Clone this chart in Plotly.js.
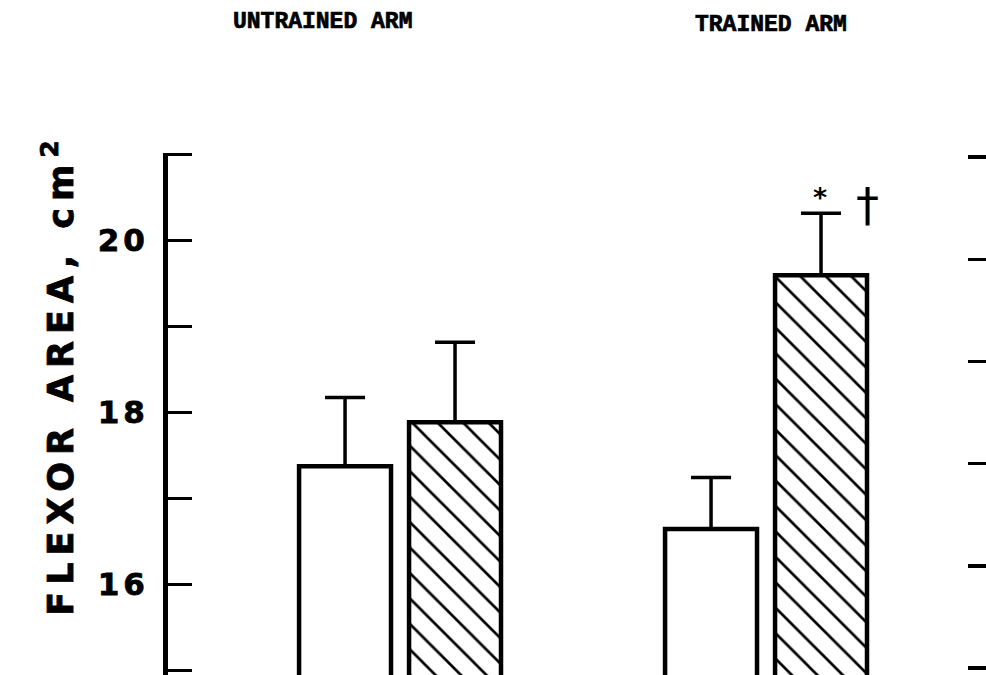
<!DOCTYPE html>
<html>
<head>
<meta charset="utf-8">
<script src="https://cdn.plot.ly/plotly-3.0.1.min.js"></script>
<style>
  html, body { margin: 0; padding: 0; background: #ffffff; overflow: hidden; }
  #chart { width: 986px; height: 675px; }
  /* wide, heavy lettering of the axis title and tick numbers */
  g.annotation[data-index="0"] text { letter-spacing: 7px; stroke: #000000; stroke-width: 0.8px; }
  g.annotation[data-index="1"] text,
  g.annotation[data-index="2"] text { stroke: #000000; stroke-width: 0.7px; }
  .ytick text { letter-spacing: 4px; stroke: #000000; stroke-width: 0.8px; }
</style>
</head>
<body>
<div id="chart"></div>
<script>
// Flexor cross-sectional area (cm^2), before and after training, for each arm
const groups    = ['UNTRAINED ARM', 'TRAINED ARM'];
const preMeans  = [17.37, 16.64];
const preSE     = [0.80, 0.60];
const postMeans = [17.88, 19.59];
const postSE    = [0.93, 0.72];

// left axis ticks and their labels (only even values are numbered)
const yTickVals = [15, 16, 17, 18, 19, 20, 21];
const yTickText = ['', '16', '', '18', '', '20', ''];
// unlabelled ticks of the right-hand axis
const y2TickVals = [0, 1, 2, 3, 4, 5];

const zeros = groups.map(() => 0);

const pre = {
  type: 'bar',
  name: 'Pre',
  x: groups,
  y: preMeans,
  marker: { color: '#ffffff', line: { color: '#000000', width: 4.5 } },
  error_y: {
    type: 'data', symmetric: false, array: preSE, arrayminus: zeros,
    color: '#000000', thickness: 3.5, width: 20
  },
  hoverinfo: 'none'
};

const post = {
  type: 'bar',
  name: 'Post',
  x: groups,
  y: postMeans,
  marker: {
    color: '#ffffff',
    line: { color: '#000000', width: 4.5 },
    pattern: { shape: '\\', fgcolor: '#000000', bgcolor: '#ffffff', size: 18, solidity: 0.15 }
  },
  error_y: {
    type: 'data', symmetric: false, array: postSE, arrayminus: zeros,
    color: '#000000', thickness: 3.5, width: 20
  },
  hoverinfo: 'none'
};

// carrier for the right-hand axis (it has no marks of its own)
const rightAxis = {
  type: 'scatter', mode: 'markers', x: [], y: [], yaxis: 'y2', hoverinfo: 'none', showlegend: false
};

const sigTop = postMeans[1] + postSE[1];

const layout = {
  width: 986,
  height: 675,
  margin: { l: 168, r: 0, t: 153, b: 0, pad: 0 },
  paper_bgcolor: '#ffffff',
  plot_bgcolor: 'rgba(0,0,0,0)',
  showlegend: false,
  barmode: 'group',
  bargap: 0.399,
  bargroupgap: 0.164,
  xaxis: {
    type: 'category',
    range: [-0.634, 1.601],
    showline: false, showgrid: false, zeroline: false,
    ticks: '', showticklabels: false, fixedrange: true
  },
  yaxis: {
    range: [14.942, 21.012],
    tickmode: 'array',
    tickvals: yTickVals,
    ticktext: yTickText,
    ticks: 'inside', ticklen: 24, tickwidth: 3, tickcolor: '#000000',
    showline: true, linewidth: 5, linecolor: '#000000',
    showgrid: false, zeroline: false,
    ticklabelstandoff: 8,
    tickfont: { family: 'DejaVu Sans', size: 31, color: '#000000', weight: 'bold' },
    automargin: false, fixedrange: true
  },
  yaxis2: {
    overlaying: 'y', side: 'right', anchor: 'x',
    range: [-0.068, 5.04],
    tickmode: 'array',
    tickvals: y2TickVals,
    ticks: 'inside', ticklen: 18, tickwidth: 3.5, tickcolor: '#000000',
    showline: false, showgrid: false, zeroline: false,
    showticklabels: false, automargin: false, fixedrange: true
  },
  annotations: [
    {
      text: 'FLEXOR AREA, cm<sup>2</sup>',
      xref: 'paper', yref: 'paper', x: -0.134, y: 0.576,
      xanchor: 'center', yanchor: 'middle', textangle: -90, showarrow: false,
      font: { family: 'DejaVu Sans', size: 35, color: '#000000', weight: 'bold' }
    },
    {
      text: 'UNTRAINED ARM',
      xref: 'x', yref: 'paper', x: -0.213, y: 1.251,
      xanchor: 'center', yanchor: 'middle', showarrow: false,
      font: { family: 'Liberation Mono', size: 23, color: '#000000', weight: 'bold' }
    },
    {
      text: 'TRAINED ARM',
      xref: 'x', yref: 'paper', x: 1.014, y: 1.246,
      xanchor: 'center', yanchor: 'middle', showarrow: false,
      font: { family: 'Liberation Mono', size: 23, color: '#000000', weight: 'bold' }
    },
    {
      text: '*',
      xref: 'x', yref: 'y', x: 1, y: sigTop, xshift: 54, yshift: -2,
      xanchor: 'center', yanchor: 'bottom', showarrow: false,
      font: { family: 'DejaVu Sans', size: 27, color: '#000000', weight: 'bold' }
    },
    {
      text: '†',
      xref: 'x', yref: 'y', x: 1, y: sigTop, xshift: 101, yshift: 8,
      xanchor: 'center', yanchor: 'middle', showarrow: false,
      font: { family: 'DejaVu Sans', size: 46, color: '#000000' }
    }
  ]
};

Plotly.newPlot('chart', [pre, post, rightAxis], layout, { staticPlot: true, displayModeBar: false });
</script>
</body>
</html>
